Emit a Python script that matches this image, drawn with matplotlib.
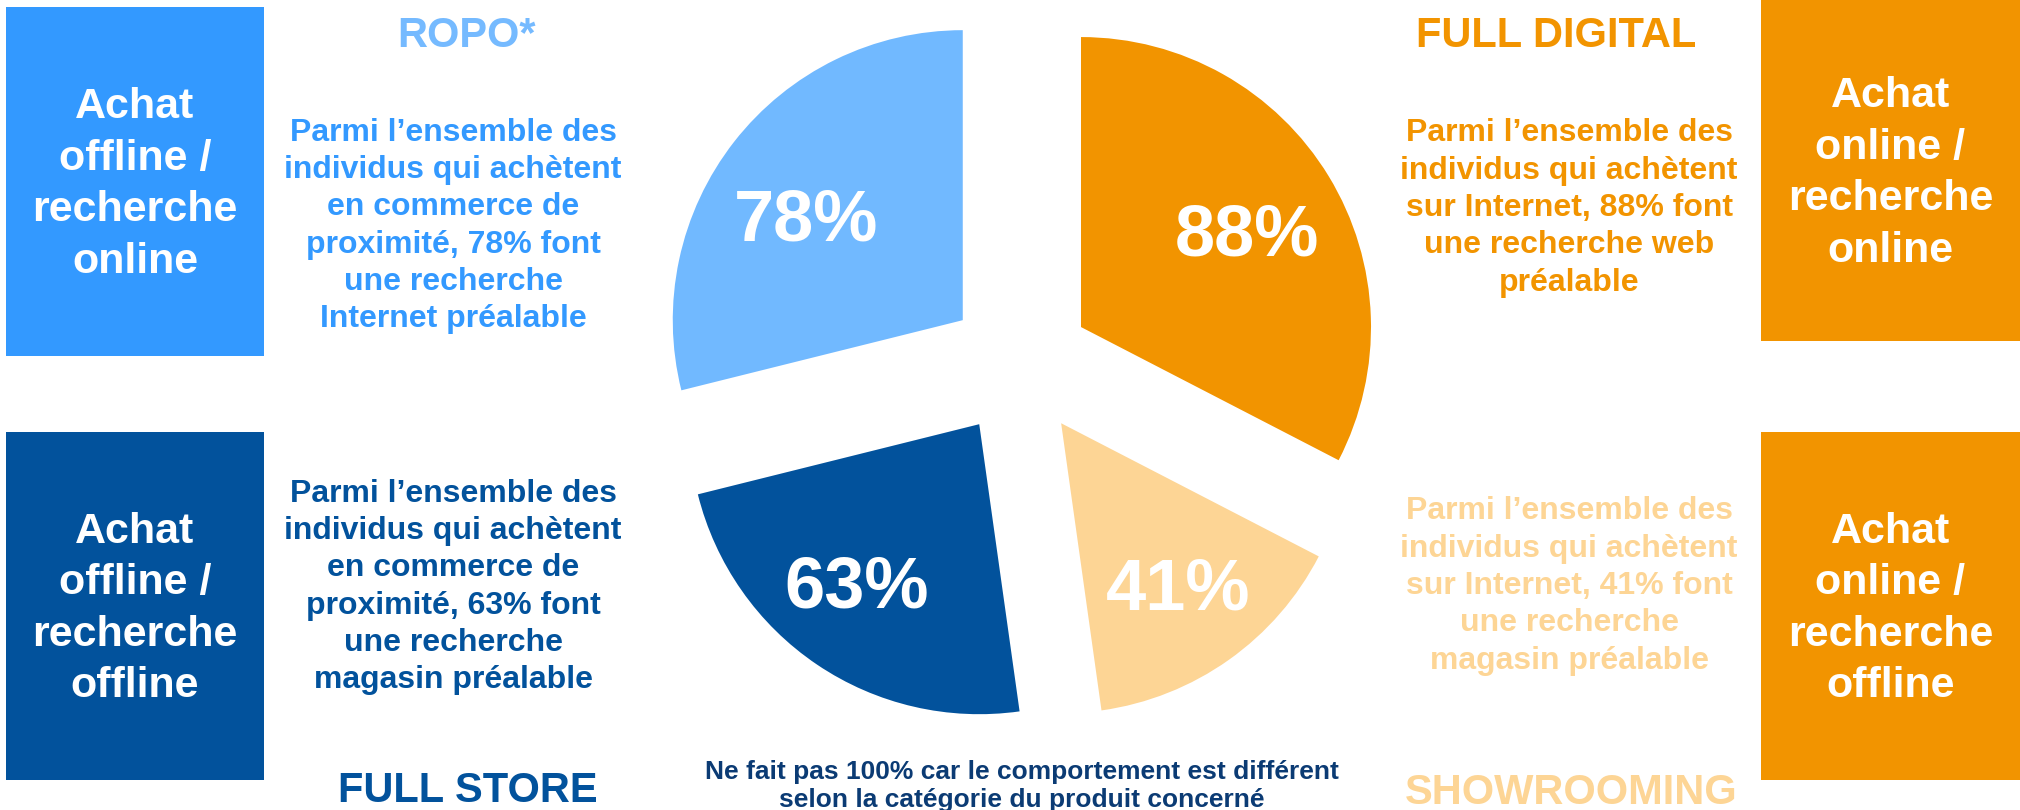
import matplotlib
matplotlib.use("Agg")
import matplotlib.pyplot as plt
from matplotlib.patches import Rectangle

plt.rcParams['font.family'] = ['Liberation Sans', 'DejaVu Sans']
plt.rcParams['font.weight'] = 'bold'

# data: clockwise from the top
segments = ['FULL DIGITAL', 'SHOWROOMING', 'FULL STORE', 'ROPO*']
values = [88, 41, 63, 78]
slice_colors = ['#F29400', '#FDD595', '#02529C', '#71B9FF']

box_texts = ['Achat\nonline /\nrecherche\nonline',
             'Achat\nonline /\nrecherche\noffline',
             'Achat\noffline /\nrecherche\noffline',
             'Achat\noffline /\nrecherche\nonline']
descriptions = [
    "Parmi l\u2019ensemble des\nindividus qui achètent\nsur Internet, 88% font\nune recherche web\npréalable",
    "Parmi l\u2019ensemble des\nindividus qui achètent\nsur Internet, 41% font\nune recherche\nmagasin préalable",
    "Parmi l\u2019ensemble des\nindividus qui achètent\nen commerce de\nproximité, 63% font\nune recherche\nmagasin préalable",
    "Parmi l\u2019ensemble des\nindividus qui achètent\nen commerce de\nproximité, 78% font\nune recherche\nInternet préalable",
]
box_colors = ['#F29400', '#F29400', '#02529C', '#3399FF']
desc_colors = ['#F29400', '#FDD595', '#02529C', '#3399FF']
title_colors = ['#F29400', '#FDD595', '#02529C', '#75BAFF']
footnote = "Ne fait pas 100% car le comportement est différent\nselon la catégorie du produit concerné"

W, H = 2020, 810


def Y(y):
    # pixel row (from top) -> data y (from bottom)
    return H - y


fig = plt.figure(figsize=(W / 100, H / 100), dpi=100)
ax = fig.add_axes([0, 0, 1, 1])

total = sum(values)
radius = 290
# explode is in data units here (pixels)
wedges, _, autotexts = ax.pie(
    values, colors=slice_colors, startangle=90, counterclock=False,
    explode=[72] * len(values), radius=radius, center=(1019.5, Y(364.5)),
    autopct=lambda p: f'{p * total / 100:.0f}%', pctdistance=0.67,
    wedgeprops={'linewidth': 0},
    textprops={'color': 'white', 'fontsize': 52, 'fontweight': 'bold'})

# small nudges of the percentage labels, as placed in the original
label_nudge = [(0, -10), (5, -9), (-14, -3), (-4, -21)]
for t, (dx, dy) in zip(autotexts, label_nudge):
    x, y = t.get_position()
    t.set_position((x + dx, y + dy))

ax.set_xlim(0, W)
ax.set_ylim(0, H)
ax.axis('off')

# side boxes: (x0, y0_top, x1, y1_bottom) in pixels
box_pos = [(1761, 0, 2020, 341), (1761, 432, 2020, 780),
           (6, 432, 264, 780), (6, 7, 264, 356)]
for (x0, y0, x1, y1), txt, c in zip(box_pos, box_texts, box_colors):
    ax.add_patch(Rectangle((x0, Y(y1)), x1 - x0, y1 - y0, color=c, lw=0))
    ax.text((x0 + x1) / 2, Y((y0 + y1) / 2 + 3), txt, color='white', fontsize=31,
            ha='center', va='center', linespacing=1.37, multialignment='center')

desc_pos = [(1569, 208), (1569, 586), (453, 587), (453, 226)]
for (x, y), txt, c in zip(desc_pos, descriptions, desc_colors):
    ax.text(x, Y(y), txt, color=c, fontsize=23, ha='center', va='center',
            linespacing=1.32, multialignment='center')

title_pos = [(1556, 36), (1571, 793), (468, 791), (466, 36)]
for (x, y), txt, c in zip(title_pos, segments, title_colors):
    ax.text(x, Y(y), txt, color=c, fontsize=30, ha='center', va='center')

ax.text(1022, Y(760), footnote, color='#0B3B74', fontsize=19, ha='center',
        va='top', linespacing=1.2, multialignment='center')

fig.savefig('out.png', dpi=100, facecolor='white')
